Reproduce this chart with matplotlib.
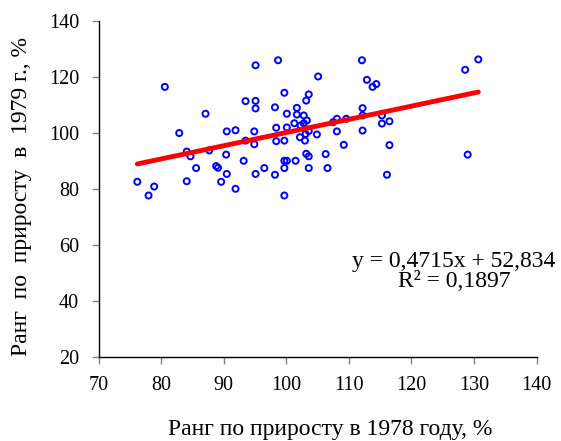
import matplotlib
matplotlib.use("Agg")
import matplotlib.pyplot as plt
import numpy as np

plt.rcParams['font.family'] = ['Liberation Serif', 'DejaVu Serif']
plt.rcParams['font.serif'] = ['Liberation Serif', 'DejaVu Serif']

# rank by growth, 1978 vs 1979 (%)
rank_1978 = [76.2, 78.0, 78.9, 80.6, 82.9, 84.1, 84.1, 84.7, 85.6, 87.1,
             87.7, 88.8, 89.1, 89.6, 90.4, 90.5, 90.5, 91.9, 91.9, 93.2,
             93.5, 93.5, 94.9, 94.9, 95.1, 95.1, 95.1, 95.1, 96.5, 98.2,
             98.2, 98.4, 98.4, 98.7, 99.7, 99.7, 99.7, 99.7, 99.7, 100.1,
             100.1, 100.1, 101.3, 101.5, 101.7, 101.7, 102.2, 102.3, 102.8, 102.8,
             103.0, 103.1, 103.2, 103.2, 103.3, 103.6, 103.6, 103.6, 103.6, 104.9,
             105.1, 106.3, 106.6, 107.5, 108.1, 108.1, 109.2, 109.6, 112.1, 112.2,
             112.2, 112.2, 112.9, 113.8, 114.4, 115.3, 115.3, 116.1, 116.5, 116.5,
             128.6, 129.0, 130.7]
rank_1979 = [82.4, 77.5, 80.7, 116.3, 99.8, 93.2, 82.6, 91.5, 87.3, 106.7,
             93.6, 88.0, 87.4, 82.4, 92.1, 100.4, 85.2, 100.8, 79.9, 89.9,
             111.2, 97.1, 100.4, 95.8, 124.0, 111.3, 108.6, 85.2, 87.3, 109.0,
             84.9, 101.7, 96.9, 125.8, 114.2, 97.1, 89.9, 87.3, 77.5, 106.7,
             101.8, 89.9, 103.3, 89.9, 108.8, 106.4, 98.3, 102.5, 106.1, 103.3,
             97.1, 99.5, 111.4, 92.4, 104.3, 113.6, 91.5, 87.3, 100.5, 99.3,
             120.0, 92.3, 87.3, 103.7, 104.9, 100.4, 95.6, 104.9, 125.8, 108.7,
             106.1, 100.7, 118.8, 116.3, 117.3, 106.1, 103.2, 84.9, 104.0, 95.5,
             122.4, 92.1, 126.1]

xticks = [70, 80, 90, 100, 110, 120, 130, 140]
yticks = [20, 40, 60, 80, 100, 120, 140]

slope = 0.4715
intercept = 52.834
r_squared = 0.1897

fig = plt.figure(figsize=(5.61, 4.41), dpi=100)
ax = fig.add_axes([98.5 / 561, 1 - 356.5 / 441, 438 / 561, 336 / 441])

ax.scatter(rank_1978, rank_1979, s=19, facecolors='none', edgecolors='#0000FF',
           linewidths=1.4, zorder=2)

# linear trend over the range of the data
xs = np.array([min(rank_1978), max(rank_1978)])
ax.plot(xs, slope * xs + intercept, color='#FF0000', lw=3.5,
        solid_capstyle='round', zorder=3)

ax.set_xlim(70, 140)
ax.set_ylim(20, 140)
ax.set_xticks(xticks)
ax.set_xticklabels([str(v) for v in xticks], fontfamily='Liberation Serif', fontsize=14.5)
ax.set_yticks(yticks)
ax.set_yticklabels([str(v) for v in yticks], fontfamily='Liberation Serif', fontsize=14.5)

for side in ['top', 'right']:
    ax.spines[side].set_visible(False)
for side in ['left', 'bottom']:
    ax.spines[side].set_color('black')
    ax.spines[side].set_linewidth(1.0)

ax.tick_params(direction='out', length=5, width=1, color='#808080', labelcolor='black')
ax.tick_params(axis='x', pad=9)
ax.tick_params(axis='y', pad=9)

eq_text = f'y = {slope:.4f}x + {intercept:.3f}\nR² = {r_squared:.4f}'.replace('.', ',')
ax.text(126.8, 50.3, eq_text, ha='center', va='center', fontsize=17,
        linespacing=0.95, fontfamily='Liberation Serif')

fig.text(330 / 561, 1 - 430 / 441, 'Ранг по приросту в 1978 году, %',
         ha='center', va='center', fontsize=17)
fig.text(22 / 561, 1 - 196 / 441, 'Ранг  по  приросту  в  1979 г., %',
         ha='center', va='center', fontsize=17, rotation=90)

fig.savefig('out.png', dpi=100)
